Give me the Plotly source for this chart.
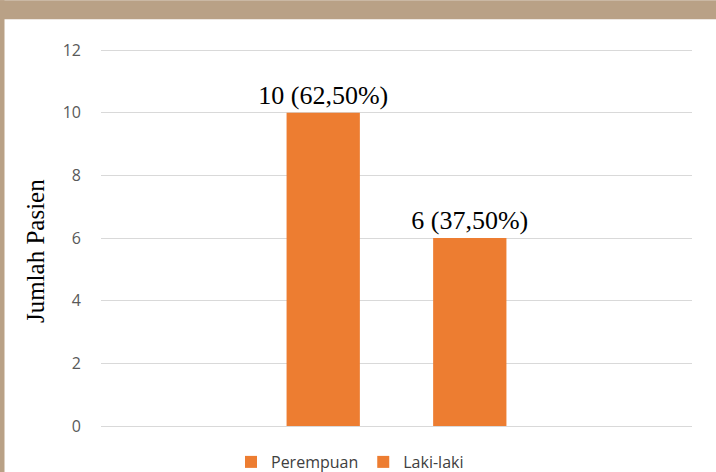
import plotly.graph_objects as go

series_names = ["Perempuan", "Laki-laki"]
values = [10, 6]
labels = ["10 (62,50%)", "6 (37,50%)"]
category = [""]
y_ticks = [0, 2, 4, 6, 8, 10, 12]
y_title = "Jumlah Pasien"

BAR_COLOR = "#ED7D31"
TAN = "#B9A186"

fig = go.Figure()
for name, v, lab in zip(series_names, values, labels):
    fig.add_trace(go.Bar(
        name=name, x=category, y=[v], text=[lab],
        textposition="outside", cliponaxis=False, constraintext="none",
        textfont=dict(family="Liberation Serif", size=26, color="#000000"),
        marker=dict(color=BAR_COLOR, line=dict(width=0)),
    ))

W, H = 716, 472
Y_TOP = 12.1
L, R, B = 101, 24, 46
T = H - B - 376 * Y_TOP / 12
pw, ph = W - L - R, H - T - B

def px(x):
    return (x - L) / pw

def py(y):
    return (H - B - y) / ph

fig.update_layout(
    width=W, height=H,
    margin=dict(l=L, r=R, t=T, b=B, autoexpand=False),
    paper_bgcolor="#FFFFFF", plot_bgcolor="rgba(0,0,0,0)",
    barmode="group", bargap=0.504, bargroupgap=0.5,
    showlegend=True,
    legend=dict(orientation="h", x=px(231), xanchor="left", y=py(462), yanchor="middle",
                font=dict(family="Open Sans", size=16, color="#404040"),
                itemwidth=30, traceorder="normal"),
    xaxis=dict(showticklabels=False, showgrid=False, zeroline=False, showline=False, fixedrange=True),
    yaxis=dict(range=[0, Y_TOP], tickvals=y_ticks, showgrid=True, gridcolor="#D9D9D9", gridwidth=1.3,
               zeroline=True, zerolinecolor="#D9D9D9", zerolinewidth=1.3, showline=False,
               ticks="", ticklabelstandoff=19,
               tickfont=dict(family="Open Sans", size=16, color="#595959")),
    annotations=[dict(text=y_title, textangle=-90, xref="paper", yref="paper",
                      x=px(35), y=py(251), xanchor="center", yanchor="middle", showarrow=False,
                      font=dict(family="Liberation Serif", size=25, color="#000000"))],
    shapes=[
        dict(type="rect", xref="paper", yref="paper", x0=px(0), x1=px(W), y0=py(19), y1=py(0),
             fillcolor=TAN, line=dict(width=0), layer="above"),
        dict(type="rect", xref="paper", yref="paper", x0=px(0), x1=px(4.5), y0=py(H), y1=py(0),
             fillcolor=TAN, line=dict(width=0), layer="above"),
    ],
)

fig.write_html("out.html", config={"displayModeBar": False},
               post_script="document.body.style.margin='0px';")
